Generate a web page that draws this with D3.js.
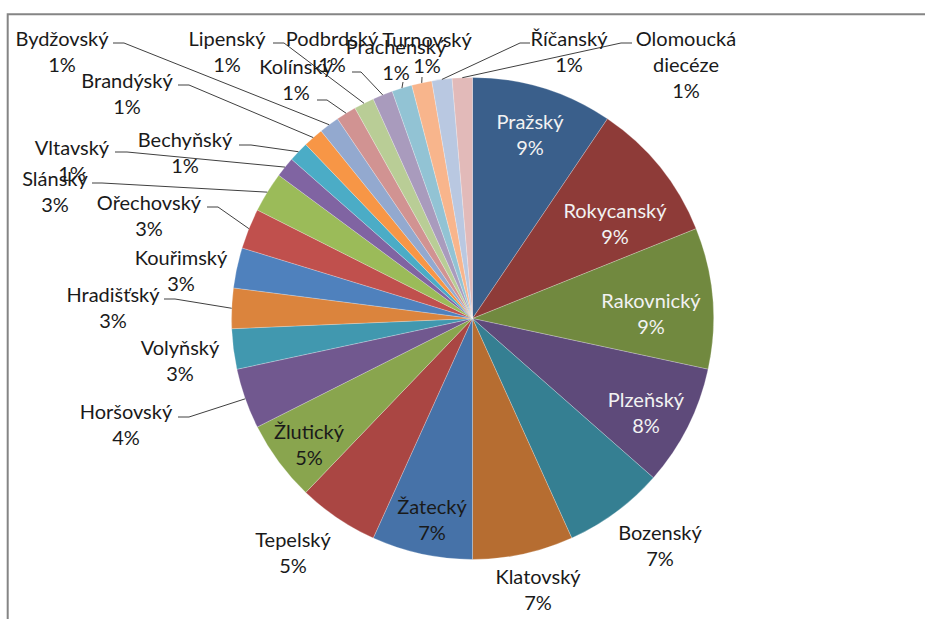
<!DOCTYPE html>
<html>
<head>
<meta charset="utf-8">
<script src="https://cdn.jsdelivr.net/npm/d3@7"></script>
<style>
  body { margin: 0; background: #fff; }
  text { font-family: Lato, "Open Sans", sans-serif; font-size: 20px; }
</style>
</head>
<body>
<div id="chart"></div>
<script>
// vikariáty (clockwise from 12 o'clock)
const names = ["Pražský", "Rokycanský", "Rakovnický", "Plzeňský", "Bozenský", "Klatovský",
  "Žatecký", "Tepelský", "Žlutický", "Horšovský", "Volyňský", "Hradišťský", "Kouřimský",
  "Ořechovský", "Slánský", "Vltavský", "Bechyňský", "Brandýský", "Bydžovský", "Kolínský",
  "Lipenský", "Podbrdský", "Prachenský", "Turnovský", "Říčanský", "Olomoucká diecéze"];
const counts = [7, 7, 7, 6, 5, 5, 5, 4, 4, 3, 2, 2, 2, 2, 2, 1, 1, 1, 1, 1, 1, 1, 1, 1, 1, 1];
const colors = ["#3a5f8b", "#8e3b38", "#71893f", "#5e4a7a", "#357f92", "#b66d31",
  "#4672a8", "#aa4643", "#89a54e", "#71588f", "#4198af", "#db843d", "#4f81bd",
  "#c0504d", "#9bbb59", "#8064a2", "#4bacc6", "#f79646", "#93a9cf", "#d19392",
  "#b9cd96", "#a99bbd", "#92c3d4", "#f8b58c", "#b9c8e1", "#e2bab9"];

const width = 925, height = 619;
const cx = 472.5, cy = 318.5, radius = 241;

// where Excel left each label (centre of first line) and its leader line start
const labelLayout = {
  "Pražský": {x: 530, y: 122},
  "Rokycanský": {x: 615, y: 211},
  "Rakovnický": {x: 651, y: 301},
  "Plzeňský": {x: 646, y: 400},
  "Bozenský": {x: 660, y: 533},
  "Klatovský": {x: 538, y: 577},
  "Žatecký": {x: 432, y: 507},
  "Tepelský": {x: 293, y: 540},
  "Žlutický": {x: 309, y: 432},
  "Horšovský": {x: 126, y: 412, lead: [[178, 417], [189, 417]]},
  "Volyňský": {x: 180, y: 348},
  "Hradišťský": {x: 113, y: 295, lead: [[164, 299], [175, 299]]},
  "Kouřimský": {x: 181, y: 258},
  "Ořechovský": {x: 149, y: 203, lead: [[207, 207], [218, 207]]},
  "Slánský": {x: 55, y: 179, lead: [[92, 183], [102, 183]]},
  "Vltavský": {x: 72, y: 148, lead: [[115, 152], [127, 152]]},
  "Bechyňský": {x: 185, y: 140, lead: [[239, 145], [251, 145]]},
  "Brandýský": {x: 127, y: 81, lead: [[178, 85], [189, 85]]},
  "Bydžovský": {x: 62, y: 39, lead: [[113, 43], [124, 43]]},
  "Kolínský": {x: 296, y: 67, lead: [[317, 100], [327, 100]]},
  "Lipenský": {x: 227, y: 39, lead: [[273, 43], [284, 43]]},
  "Podbrdský": {x: 332, y: 39, lead: [[352, 72], [361, 72]]},
  "Prachenský": {x: 396, y: 47, lead: [[403, 82]]},
  "Turnovský": {x: 427, y: 40, lead: [[422, 77]]},
  "Říčanský": {x: 569, y: 39, lead: [[530, 43], [520, 43]]},
  "Olomoucká diecéze": {x: 686, y: 39, lead: [[632, 43], [621, 43]]}
};
const whiteLabels = ["Pražský", "Rokycanský", "Rakovnický", "Plzeňský"];

const data = names.map((n, i) => ({name: n, value: counts[i], color: colors[i]}));
const total = d3.sum(counts);
const pct = d3.format(".0%");

const svg = d3.select("#chart").append("svg")
  .attr("width", width)
  .attr("height", height);

// chart area frame (only top and left edges are visible)
svg.append("path")
  .attr("d", "M7.7," + height + "V14.3H" + width)
  .attr("fill", "none")
  .attr("stroke", "#858585")
  .attr("stroke-width", 2);

const pie = d3.pie().sort(null).value(d => d.value);
const arcs = pie(data);
const arc = d3.arc().innerRadius(0).outerRadius(radius);
const edge = d3.arc().innerRadius(radius).outerRadius(radius);

const g = svg.append("g").attr("transform", "translate(" + cx + "," + cy + ")");

g.selectAll("path.slice")
  .data(arcs)
  .enter()
  .append("path")
  .attr("class", "slice")
  .attr("d", arc)
  .attr("fill", d => d.data.color)
  .attr("stroke", "#fff")
  .attr("stroke-width", 0.4)
  .attr("stroke-opacity", 0.6);

// leader lines
const line = d3.line();
svg.append("g")
  .selectAll("path")
  .data(arcs.filter(d => labelLayout[d.data.name].lead))
  .enter()
  .append("path")
  .attr("d", d => {
    const p = edge.centroid(d);
    const pts = labelLayout[d.data.name].lead.concat([[cx + p[0], cy + p[1]]]);
    return line(pts);
  })
  .attr("fill", "none")
  .attr("stroke", "#404040")
  .attr("stroke-width", 1);

// labels
const labels = svg.append("g")
  .selectAll("text")
  .data(arcs)
  .enter()
  .append("text")
  .attr("text-anchor", "middle")
  .attr("fill", d => whiteLabels.includes(d.data.name) ? "#f2f2f2" : "#1a1a1a");

labels.each(function(d) {
  const pos = labelLayout[d.data.name];
  const lines = d.data.name === "Olomoucká diecéze" ? ["Olomoucká", "diecéze"] : [d.data.name];
  lines.push(pct(d.data.value / total));
  d3.select(this).selectAll("tspan")
    .data(lines)
    .enter()
    .append("tspan")
    .attr("x", pos.x)
    .attr("y", (t, i) => pos.y + i * 26)
    .attr("dy", "0.35em")
    .text(t => t);
});
</script>
</body>
</html>
